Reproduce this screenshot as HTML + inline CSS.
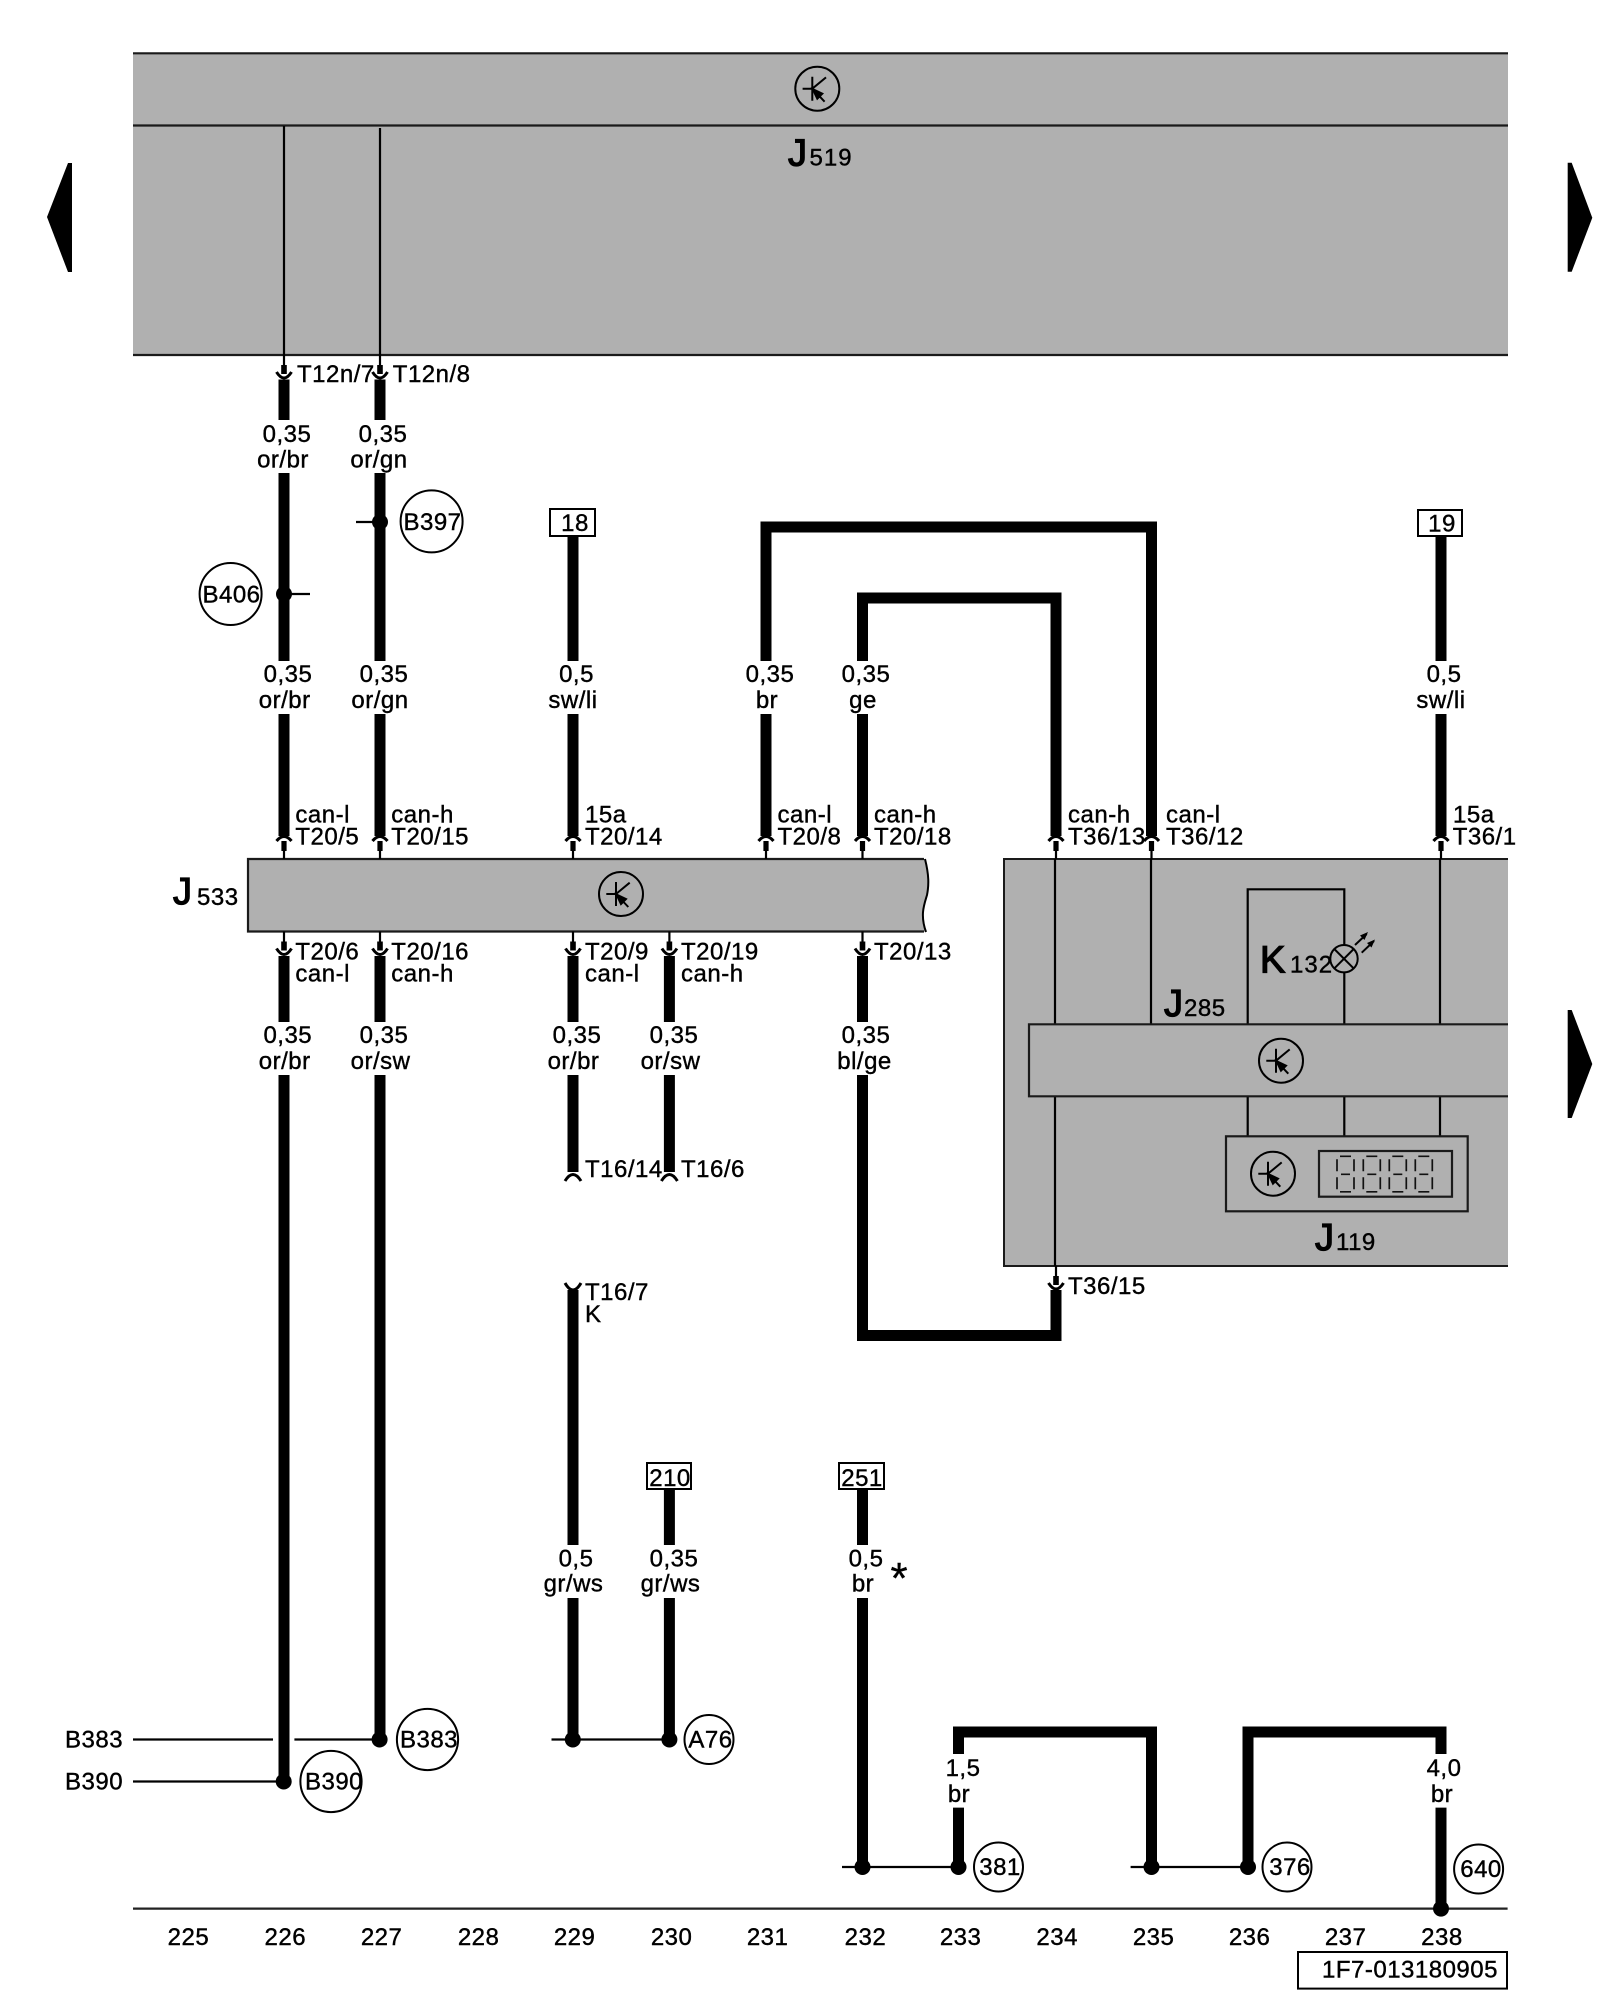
<!DOCTYPE html>
<html><head><meta charset="utf-8"><title>Wiring diagram</title>
<style>
html,body{margin:0;padding:0;background:#fff}
svg{display:block}
text{font-family:"Liberation Sans",Arial,sans-serif;font-size:24px;letter-spacing:.5px;fill:#000;stroke:#000;stroke-width:.4px}
.m{text-anchor:middle}
.big{font-size:38px;letter-spacing:0;stroke-width:1.3px}
</style></head><body>
<svg xmlns="http://www.w3.org/2000/svg" width="1600" height="2000" viewBox="0 0 1600 2000">
<defs>
<g id="clk" fill="none" stroke="#000" stroke-width="2">
<circle r="22"/><path d="M-14.7,0H-5M-5,-12V12M-5,0L8.7,-11.3M-4,1L7.3,13"/>
<path d="M-4.5,0.5L5,5L0,10Z" fill="#000"/>
</g>
<g id="up"><path d="M-7.5,-18Q0,-27 7.5,-18" fill="none" stroke="#000" stroke-width="3"/><rect x="-2.6" y="-18" width="5.2" height="10" fill="#000"/><path d="M0,-9V0" stroke="#000" stroke-width="2.2"/></g>
<g id="dn"><path d="M0,0V10" stroke="#000" stroke-width="2.2"/><rect x="-2.8" y="10" width="5.6" height="9" fill="#000"/><path d="M-7.5,17Q0,29 7.5,17" fill="none" stroke="#000" stroke-width="3"/></g>
<g id="dg" stroke="#111" stroke-width="1.7" fill="none"><path d="M4,1H15M5,19H14M4,36.5H15M1,4V16M1,22V34M18,4V16M18,22V34"/></g>
</defs>
<rect width="1600" height="2000" fill="#fff"/>

<!-- J519 band -->
<rect x="133" y="53" width="1375" height="302" fill="#b0b0b0"/>
<path d="M133,53.3H1508M133,125.5H1508M133,355H1508" stroke="#1a1a1a" stroke-width="2.2" fill="none"/>
<use href="#clk" x="817.3" y="88.7"/>
<text class="big" x="788" y="165.7">J</text><text x="809.5" y="165.7" style="letter-spacing:1px">519</text>
<path d="M284,126V355M380,128V355" stroke="#000" stroke-width="2.2"/>

<!-- navigation arrows -->
<polygon points="47,217 68,163 72,163 72,272 68,272" fill="#000"/>
<polygon points="1592.3,217.7 1571.7,162.7 1567.7,162.7 1567.7,271.7 1571.7,271.7" fill="#000"/>
<polygon points="1592.3,1064 1571.7,1010 1567.7,1010 1567.7,1118 1571.7,1118" fill="#000"/>

<!-- J533 -->
<path d="M248,859H925C929,875 929,885 927,895C924,905 920,915 926,931.5H248Z" fill="#b0b0b0"/>
<path d="M924,859H248V931.5H924" fill="none" stroke="#1a1a1a" stroke-width="2.2"/>
<path d="M925,859C929,875 929,885 927,895C924,905 920,915 926,932" fill="none" stroke="#000" stroke-width="2"/>
<use href="#clk" x="621" y="894"/>
<text class="big" x="173" y="904">J</text><text x="197" y="905">533</text>

<!-- right module -->
<rect x="1004" y="859" width="504" height="407" fill="#b0b0b0"/>
<path d="M1508,859H1004V1266H1508" fill="none" stroke="#1a1a1a" stroke-width="2"/>
<path d="M1055,859V1024M1055,1096V1266M1151,859V1024M1440,859V1024M1440,1096V1136M1247.7,1096V1136M1344.3,1096V1136" stroke="#000" stroke-width="2.2" fill="none"/>
<path d="M1247.7,1024V889.3H1344.3V945M1344.3,972.5V1024" stroke="#000" stroke-width="2.2" fill="none"/>
<path d="M1508,1024.3H1029V1096.3H1508" fill="#b0b0b0" stroke="#1a1a1a" stroke-width="2.2"/>
<use href="#clk" x="1281" y="1060.7"/>
<text class="big" x="1164" y="1016">J</text><text x="1184" y="1016">285</text>
<text class="big" x="1260" y="972.7">K</text><text x="1290" y="972.7" style="letter-spacing:1px">132</text>
<g fill="none" stroke="#000" stroke-width="2"><circle cx="1344" cy="958.7" r="13.7"/><path d="M1334.3,949L1353.7,968.4M1353.7,949L1334.3,968.4"/><path d="M1355,945L1366.7,934M1361.7,952.7L1374,941"/></g>
<path d="M1368,932L1360,935.5L1364.5,940ZM1375,939.5L1367,943L1371.5,947.5Z" fill="#000"/>
<rect x="1226" y="1136.3" width="241.7" height="75" fill="#b0b0b0" stroke="#1a1a1a" stroke-width="2.2"/>
<use href="#clk" x="1273" y="1173.7"/>
<rect x="1319" y="1151" width="133" height="45.7" fill="#b0b0b0" stroke="#1a1a1a" stroke-width="2.2"/>
<use href="#dg" x="1336" y="1155.3"/><use href="#dg" x="1362.3" y="1155.3"/><use href="#dg" x="1388.3" y="1155.3"/><use href="#dg" x="1414.3" y="1155.3"/>
<text class="big" x="1315" y="1250">J</text><text x="1336" y="1250">119</text>

<!-- thick wires -->
<g fill="none" stroke="#000" stroke-width="11">
<path d="M284,379.5V420M284,473V661M284,714V836"/>
<path d="M380,379.5V420M380,473V661M380,714V836"/>
<path d="M573,536V661M573,714V836"/>
<path d="M1441,536V661M1441,714V836"/>
<path d="M766,661V527H1151.5V836"/>
<path d="M766,714V836"/>
<path d="M862.5,661V598H1056V836"/>
<path d="M862.5,714V836"/>
<path d="M284,956V1022M284,1075V1781"/>
<path d="M380,956V1022M380,1075V1739"/>
<path d="M573,956V1022M573,1075V1172"/>
<path d="M669.4,956V1022M669.4,1075V1172"/>
<path d="M862.5,956V1022"/>
<path d="M862.5,1075V1335.5H1056V1290"/>
<path d="M573,1290V1545M573,1598V1739"/>
<path d="M669.4,1489V1545M669.4,1598V1739"/>
<path d="M862.5,1489V1545M862.5,1598V1867"/>
<path d="M958.5,1754V1732H1151.5V1867"/>
<path d="M958.5,1807.6V1867"/>
<path d="M1248,1867V1732H1441V1754"/>
<path d="M1441,1807.6V1908"/>
</g>

<!-- connectors -->
<use href="#dn" x="284" y="355"/><use href="#dn" x="380" y="355"/>
<use href="#up" x="284" y="859"/><use href="#up" x="380" y="859"/><use href="#up" x="573" y="859"/><use href="#up" x="766" y="859"/><use href="#up" x="862.5" y="859"/>
<use href="#up" x="1056" y="859"/><use href="#up" x="1151.5" y="859"/><use href="#up" x="1441" y="859"/>
<use href="#dn" x="284" y="931.5"/><use href="#dn" x="380" y="931.5"/><use href="#dn" x="573" y="931.5"/><use href="#dn" x="669.4" y="931.5"/><use href="#dn" x="862.5" y="931.5"/>
<use href="#dn" x="1056" y="1266"/>
<g fill="none" stroke="#000" stroke-width="3">
<path d="M565,1181Q573,1168 581,1181"/><path d="M661.4,1181Q669.4,1168 677.4,1181"/>
<path d="M565,1283Q573,1297 581,1283"/>
</g>

<!-- thin horizontal lines -->
<g stroke="#000" stroke-width="2.2" fill="none">
<path d="M356,522H380M284,594H310"/>
<path d="M133,1739.5H273M294.4,1739.5H380M133,1781.5H284M551.5,1739.5H669.4"/>
<path d="M842,1867H958M1130.6,1867H1248"/>
</g>
<path d="M133,1908.6H1507.6" stroke="#222" stroke-width="2.2"/>

<!-- dots -->
<g fill="#000">
<circle cx="380" cy="522" r="8"/><circle cx="284" cy="594" r="8"/>
<circle cx="283.7" cy="1781.5" r="8"/><circle cx="379.6" cy="1739.5" r="8"/><circle cx="572.8" cy="1739.5" r="8"/><circle cx="669.4" cy="1739.5" r="8"/>
<circle cx="862.5" cy="1867" r="8"/><circle cx="958.5" cy="1867" r="8"/><circle cx="1151.5" cy="1867" r="8"/><circle cx="1248" cy="1867" r="8"/><circle cx="1441" cy="1908.6" r="8"/>
</g>

<!-- circles -->
<g fill="none" stroke="#000" stroke-width="2">
<circle cx="431.6" cy="521.4" r="31"/><circle cx="230.6" cy="594" r="31"/>
<circle cx="427.5" cy="1739.5" r="30.6"/><circle cx="331" cy="1781.5" r="30.6"/><circle cx="709" cy="1739.5" r="24.5"/>
<circle cx="998.5" cy="1867" r="24.5"/><circle cx="1287" cy="1867" r="24.5"/><circle cx="1478.6" cy="1869" r="24.5"/>
</g>
<text class="m" x="432.5" y="530">B397</text><text class="m" x="231.5" y="602.5">B406</text>
<text class="m" x="429" y="1747.5">B383</text><text class="m" x="334" y="1789.6">B390</text><text class="m" x="710.5" y="1747.5">A76</text>
<text class="m" x="1000" y="1875">381</text><text class="m" x="1290" y="1875">376</text><text class="m" x="1481" y="1877">640</text>

<!-- boxes -->
<g fill="#fff" stroke="#000" stroke-width="2">
<rect x="550" y="509" width="45" height="27"/>
<rect x="1418" y="510" width="44" height="26"/>
<rect x="647" y="1463" width="44" height="26"/><rect x="839" y="1463" width="45" height="26"/>
<rect x="1298" y="1952" width="209" height="36.6"/>
</g>
<text class="m" x="575" y="531">18</text><text class="m" x="1442" y="531.5">19</text>
<text class="m" x="670" y="1486">210</text><text class="m" x="862" y="1486">251</text>
<text x="1322" y="1977.5">1F7-013180905</text>

<!-- connector labels -->
<text x="297" y="382">T12n/7</text><text x="392.8" y="382">T12n/8</text>
<text x="295.4" y="822.7">can-l</text><text x="295.4" y="844.5">T20/5</text>
<text x="391.3" y="822.7">can-h</text><text x="391.3" y="844.5">T20/15</text>
<text x="585" y="822.7">15a</text><text x="585" y="844.5">T20/14</text>
<text x="777.5" y="822.7">can-l</text><text x="777.5" y="844.5">T20/8</text>
<text x="874" y="822.7">can-h</text><text x="874" y="844.5">T20/18</text>
<text x="1068" y="822.7">can-h</text><text x="1068" y="844.5">T36/13</text>
<text x="1166" y="822.7">can-l</text><text x="1166" y="844.5">T36/12</text>
<text x="1453" y="822.7">15a</text><text x="1452.7" y="844.5">T36/1</text>
<text x="295.4" y="959.7">T20/6</text><text x="295.4" y="981.7">can-l</text>
<text x="391.3" y="959.7">T20/16</text><text x="391.3" y="981.7">can-h</text>
<text x="585" y="959.7">T20/9</text><text x="585" y="981.7">can-l</text>
<text x="681" y="959.7">T20/19</text><text x="681" y="981.7">can-h</text>
<text x="874" y="959.7">T20/13</text>
<text x="585" y="1177">T16/14</text><text x="681" y="1177">T16/6</text>
<text x="585" y="1300">T16/7</text><text x="585" y="1322">K</text>
<text x="1068" y="1294">T36/15</text>

<!-- wire labels -->
<text class="m" x="287" y="442">0,35</text><text class="m" x="283" y="467.5">or/br</text>
<text class="m" x="383" y="442">0,35</text><text class="m" x="379" y="467.5">or/gn</text>
<text class="m" x="288" y="682">0,35</text><text class="m" x="284.7" y="708">or/br</text>
<text class="m" x="384" y="682">0,35</text><text class="m" x="380" y="708">or/gn</text>
<text class="m" x="576.5" y="682">0,5</text><text class="m" x="573" y="708">sw/li</text>
<text class="m" x="770" y="682">0,35</text><text class="m" x="767" y="708">br</text>
<text class="m" x="866" y="682">0,35</text><text class="m" x="863" y="708">ge</text>
<text class="m" x="1444" y="682">0,5</text><text class="m" x="1441" y="708">sw/li</text>
<text class="m" x="287.8" y="1043">0,35</text><text class="m" x="284.7" y="1069">or/br</text>
<text class="m" x="384" y="1043">0,35</text><text class="m" x="380.6" y="1069">or/sw</text>
<text class="m" x="577" y="1043">0,35</text><text class="m" x="573.5" y="1069">or/br</text>
<text class="m" x="674" y="1043">0,35</text><text class="m" x="670.5" y="1069">or/sw</text>
<text class="m" x="866" y="1043">0,35</text><text class="m" x="864.5" y="1069">bl/ge</text>
<text class="m" x="576" y="1566.5">0,5</text><text class="m" x="573.5" y="1591.5">gr/ws</text>
<text class="m" x="674" y="1566.5">0,35</text><text class="m" x="670.5" y="1591.5">gr/ws</text>
<text class="m" x="866" y="1566.5">0,5</text><text class="m" x="863" y="1591.5">br</text>
<text class="m" x="899" y="1593" style="font-size:44px;letter-spacing:0">*</text>
<text class="m" x="963" y="1776">1,5</text><text class="m" x="959" y="1801.8">br</text>
<text class="m" x="1444" y="1776">4,0</text><text class="m" x="1442" y="1801.8">br</text>
<text x="65" y="1747.5">B383</text><text x="65" y="1789.5">B390</text>

<!-- grid numbers -->
<g>
<text class="m" x="188.4" y="1945">225</text><text class="m" x="285.3" y="1945">226</text><text class="m" x="381.6" y="1945">227</text>
<text class="m" x="478.6" y="1945">228</text><text class="m" x="574.6" y="1945">229</text><text class="m" x="671.6" y="1945">230</text>
<text class="m" x="767.6" y="1945">231</text><text class="m" x="865.4" y="1945">232</text><text class="m" x="960.6" y="1945">233</text>
<text class="m" x="1057.2" y="1945">234</text><text class="m" x="1153.6" y="1945">235</text><text class="m" x="1249.6" y="1945">236</text>
<text class="m" x="1345.6" y="1945">237</text><text class="m" x="1441.9" y="1945">238</text>
</g>
</svg>
</body></html>
